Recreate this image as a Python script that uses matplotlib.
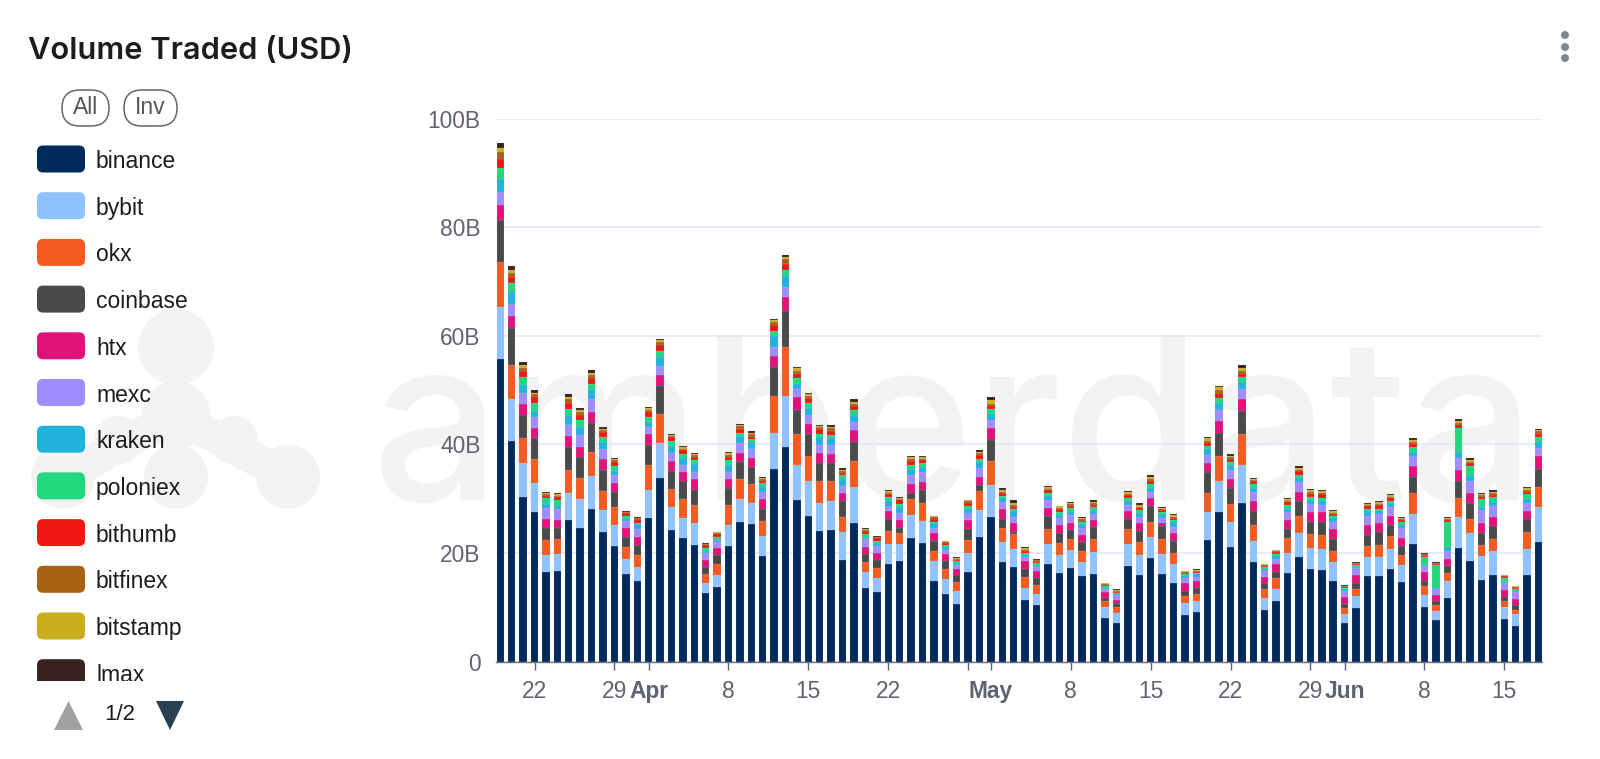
import numpy as np
import matplotlib
matplotlib.use("Agg")
import matplotlib.pyplot as plt
from matplotlib.patches import Circle, FancyBboxPatch, Polygon, Rectangle

plt.rcParams["font.family"] = ["Liberation Sans", "DejaVu Sans"]

# values in billions of USD, one per day from Mar 19 to Jun 18
binance = [55.7, 40.7, 30.4, 27.6, 16.6, 16.7, 26.0, 24.6, 28.2, 23.8,
           21.3, 16.1, 14.8, 26.4, 33.9, 24.3, 22.7, 21.5, 12.6, 13.7,
           21.3, 25.7, 25.3, 19.4, 35.4, 39.5, 29.7, 26.8, 24.0, 24.3,
           18.8, 25.5, 13.6, 12.9, 17.9, 18.6, 22.8, 21.8, 14.9, 12.4,
           10.6, 16.5, 23.0, 26.7, 18.3, 17.4, 11.3, 10.4, 17.9, 16.3,
           17.3, 15.7, 16.2, 8.0, 7.2, 17.7, 15.9, 19.1, 16.2, 14.5,
           8.6, 9.1, 22.4, 27.6, 21.1, 29.3, 18.4, 9.5, 11.2, 16.4,
           19.2, 17.0, 16.8, 14.9, 7.2, 9.9, 15.7, 15.8, 17.0, 14.6,
           21.7, 10.1, 7.6, 11.8, 20.9, 18.5, 15.0, 15.9, 7.9, 6.6,
           16.0, 22.0]
bybit = [9.6, 7.6, 6.1, 5.3, 3.1, 3.2, 5.1, 5.4, 6.0, 4.05,
         3.8, 2.9, 2.7, 5.2, 6.3, 4.2, 3.8, 4.0, 1.85, 2.2,
         3.9, 4.2, 4.0, 3.8, 6.7, 9.4, 6.6, 6.4, 5.3, 5.2,
         5.0, 6.7, 2.9, 2.6, 3.7, 3.1, 4.2, 4.05, 3.55, 2.75,
         2.4, 3.6, 5.0, 5.8, 3.75, 3.4, 2.3, 2.15, 3.75, 3.4,
         3.2, 2.7, 4.0, 2.0, 1.8, 4.05, 3.75, 3.8, 3.6, 3.45,
         2.2, 2.15, 5.1, 5.65, 4.7, 6.9, 3.85, 2.15, 2.25, 3.7,
         4.5, 3.85, 3.9, 3.45, 1.5, 2.15, 3.55, 3.55, 3.75, 3.25,
         5.45, 2.2, 1.7, 3.05, 5.8, 5.15, 4.4, 4.5, 2.2, 2.15,
         4.8, 6.4]
okx = [8.3, 6.3, 4.7, 4.4, 2.8, 2.7, 4.2, 3.9, 4.5, 3.5,
       3.3, 2.1, 2.1, 4.7, 5.5, 3.3, 3.4, 3.3, 1.7, 2.1,
       3.6, 3.7, 3.4, 2.7, 6.9, 9.1, 5.6, 4.7, 4.0, 3.7,
       2.9, 4.7, 1.85, 1.8, 2.4, 2.0, 2.9, 3.3, 1.85, 1.9,
       1.6, 2.4, 3.4, 4.5, 2.65, 2.65, 2.0, 1.6, 2.75, 2.15,
       2.1, 2.0, 2.45, 1.1, 1.0, 2.6, 2.35, 2.75, 2.75, 2.15,
       1.3, 1.3, 3.6, 4.65, 3.25, 5.7, 2.9, 1.8, 2.0, 2.6,
       3.15, 2.6, 2.6, 2.1, 1.1, 1.3, 2.0, 2.1, 2.4, 1.8,
       3.9, 1.55, 1.1, 1.4, 3.35, 2.7, 2.0, 2.2, 1.1, 0.85,
       3.0, 3.7]
coinbase = [7.7, 6.9, 4.2, 3.9, 2.1, 2.0, 4.2, 3.7, 5.2, 3.9,
            2.8, 1.85, 1.9, 3.6, 5.0, 3.3, 3.4, 2.9, 1.2, 1.6,
            3.1, 3.1, 3.1, 2.3, 5.2, 6.6, 4.5, 4.1, 3.3, 3.4,
            2.8, 3.6, 1.5, 1.35, 2.2, 1.0, 1.2, 2.4, 1.85, 1.4,
            1.3, 2.0, 1.05, 3.9, 1.65, 0.5, 1.4, 1.2, 2.45, 1.9,
            1.65, 1.65, 2.15, 0.6, 0.6, 1.9, 2.1, 3.05, 2.4, 2.1,
            1.0, 1.05, 3.9, 4.25, 2.95, 4.3, 2.55, 1.0, 1.15, 1.7,
            2.65, 2.25, 2.4, 2.2, 0.8, 1.05, 2.15, 2.5, 2.1, 1.65,
            3.05, 1.1, 0.7, 1.35, 3.2, 2.95, 2.25, 2.4, 0.7, 0.8,
            2.4, 3.3]
htx = [2.8, 2.2, 2.1, 1.9, 1.65, 1.5, 2.0, 2.0, 2.1, 2.0,
       1.7, 1.6, 1.5, 2.0, 2.15, 1.8, 1.7, 1.85, 1.35, 1.4,
       1.65, 1.8, 1.65, 1.7, 2.0, 2.6, 2.4, 1.85, 1.8, 1.65,
       1.6, 2.15, 1.3, 1.35, 1.5, 1.35, 1.55, 1.6, 1.5, 1.4,
       1.2, 1.65, 1.65, 2.1, 1.8, 1.6, 1.5, 1.3, 1.45, 1.35,
       1.35, 1.2, 1.35, 1.1, 0.85, 1.45, 1.45, 1.4, 0.6, 1.45,
       1.35, 1.2, 1.6, 2.2, 1.65, 2.1, 1.9, 1.2, 1.3, 1.6,
       1.8, 1.85, 1.8, 1.7, 1.4, 1.6, 1.8, 1.65, 1.65, 1.55,
       1.85, 1.55, 1.1, 1.3, 2.0, 1.8, 1.85, 1.7, 1.35, 1.2,
       1.6, 2.4]
mexc = [2.3, 2.2, 2.0, 1.9, 2.1, 2.0, 2.1, 2.2, 2.3, 1.85,
        1.5, 1.35, 1.5, 1.4, 1.65, 1.5, 1.3, 1.35, 1.4, 1.1,
        1.3, 1.7, 1.65, 1.35, 1.7, 1.85, 1.5, 1.6, 1.5, 1.6,
        1.3, 1.5, 1.4, 1.35, 0.85, 1.35, 1.65, 1.85, 1.05, 0.7,
        0.7, 1.2, 1.55, 1.5, 1.2, 1.1, 0.75, 0.75, 1.45, 1.4,
        1.4, 1.3, 1.05, 0.6, 0.75, 1.2, 1.15, 1.15, 0.9, 1.15,
        1.05, 0.85, 1.55, 1.95, 1.6, 1.85, 1.6, 1.1, 1.1, 1.5,
        1.7, 1.55, 1.4, 1.3, 1.05, 1.2, 1.6, 1.6, 1.65, 1.85,
        1.9, 1.05, 1.1, 1.55, 2.3, 2.25, 2.4, 1.95, 1.15, 1.15,
        1.4, 1.6]
kraken = [2.5, 2.1, 1.5, 1.2, 0.7, 0.6, 1.6, 1.35, 1.7, 1.35,
          0.8, 0.35, 0.85, 0.9, 1.6, 1.35, 1.2, 1.5, 0.25, 0.35,
          1.35, 1.3, 1.1, 0.85, 2.0, 2.0, 0.8, 1.35, 1.5, 1.35,
          1.2, 1.2, 0.25, 0.55, 1.05, 1.05, 1.2, 0.9, 0.8, 0.3,
          0.1, 0.75, 1.15, 1.2, 0.85, 1.1, 0.35, 0.25, 0.75, 0.55,
          0.5, 0.75, 0.6, 0.25, 0.25, 0.7, 0.7, 0.8, 0.75, 0.85,
          0.35, 0.55, 1.0, 1.4, 0.9, 1.4, 0.8, 0.4, 0.55, 0.7,
          0.75, 0.75, 0.7, 0.75, 0.3, 0.3, 0.9, 0.5, 0.4, 0.55,
          0.85, 0.2, 0.25, 0.7, 1.0, 0.85, 0.6, 0.8, 0.25, 0.25,
          0.8, 1.1]
poloniex = [2.0, 1.7, 1.35, 1.5, 1.0, 1.0, 1.35, 1.3, 1.15, 0.85,
            0.75, 0.6, 0.25, 0.8, 1.1, 0.85, 0.75, 0.8, 0.6, 0.6,
            0.85, 0.6, 0.8, 0.75, 1.0, 1.05, 1.2, 0.85, 0.6, 0.6,
            0.7, 1.05, 0.75, 0.3, 0.7, 0.5, 0.7, 0.6, 0.3, 0.6,
            0.6, 0.5, 0.6, 0.8, 0.3, 0.3, 0.4, 0.5, 0.55, 0.6,
            0.85, 0.35, 0.6, 0.3, 0.25, 0.6, 0.45, 0.7, 0.45, 0.45,
            0.3, 0.2, 0.6, 0.85, 0.7, 0.85, 0.7, 0.3, 0.35, 0.6,
            0.6, 0.55, 0.6, 0.45, 0.25, 0.25, 0.35, 0.5, 0.6, 0.45,
            0.75, 1.6, 4.3, 4.65, 4.55, 1.85, 1.5, 0.85, 0.85, 0.35,
            0.8, 0.9]
bithumb = [1.7, 1.2, 1.1, 1.0, 0.55, 0.6, 1.0, 1.0, 1.05, 1.05,
           0.9, 0.5, 0.55, 1.05, 1.2, 0.75, 0.75, 0.5, 0.55, 0.5,
           0.6, 0.75, 0.45, 0.5, 1.05, 1.2, 0.7, 0.9, 0.8, 0.6,
           0.5, 0.7, 0.55, 0.5, 0.55, 0.75, 0.7, 0.6, 0.55, 0.45,
           0.3, 0.6, 0.6, 0.6, 0.5, 0.5, 0.45, 0.2, 0.5, 0.45,
           0.3, 0.3, 0.5, 0.2, 0.2, 0.45, 0.4, 0.55, 0.25, 0.3,
           0.2, 0.2, 0.5, 0.7, 0.45, 0.6, 0.55, 0.2, 0.3, 0.6,
           0.7, 0.55, 0.6, 0.35, 0.2, 0.25, 0.55, 0.6, 0.55, 0.3,
           0.7, 0.2, 0.2, 0.25, 0.55, 0.5, 0.35, 0.45, 0.2, 0.25,
           0.5, 0.6]
bitfinex = [1.2, 0.7, 0.7, 0.5, 0.25, 0.25, 0.8, 0.5, 0.5, 0.3,
            0.3, 0.2, 0.25, 0.3, 0.45, 0.25, 0.25, 0.3, 0.1, 0.2,
            0.4, 0.55, 0.4, 0.3, 0.55, 0.8, 0.55, 0.4, 0.4, 0.55,
            0.3, 0.35, 0.2, 0.2, 0.3, 0.25, 0.4, 0.3, 0.25, 0.2,
            0.1, 0.3, 0.4, 0.4, 0.3, 0.3, 0.2, 0.3, 0.3, 0.25,
            0.3, 0.4, 0.3, 0.2, 0.2, 0.3, 0.3, 0.3, 0.25, 0.3,
            0.2, 0.15, 0.35, 0.75, 0.35, 0.55, 0.25, 0.2, 0.2, 0.25,
            0.3, 0.3, 0.3, 0.25, 0.1, 0.1, 0.25, 0.3, 0.25, 0.25,
            0.35, 0.25, 0.1, 0.2, 0.35, 0.3, 0.3, 0.25, 0.1, 0.15,
            0.3, 0.4]
bitstamp = [0.8, 0.55, 0.4, 0.3, 0.2, 0.25, 0.3, 0.35, 0.5, 0.25,
            0.2, 0.1, 0.1, 0.3, 0.4, 0.2, 0.25, 0.3, 0.1, 0.1,
            0.35, 0.25, 0.3, 0.25, 0.35, 0.5, 0.5, 0.35, 0.25, 0.35,
            0.25, 0.4, 0.2, 0.1, 0.2, 0.2, 0.3, 0.2, 0.2, 0.1,
            0.2, 0.2, 0.3, 0.6, 0.4, 0.4, 0.3, 0.1, 0.35, 0.25,
            0.25, 0.2, 0.25, 0.1, 0.1, 0.3, 0.3, 0.35, 0.2, 0.25,
            0.1, 0.15, 0.5, 0.55, 0.3, 0.5, 0.2, 0.1, 0.1, 0.3,
            0.3, 0.3, 0.25, 0.25, 0.1, 0.1, 0.25, 0.3, 0.3, 0.25,
            0.35, 0.1, 0.1, 0.2, 0.3, 0.3, 0.3, 0.3, 0.1, 0.1,
            0.3, 0.3]
lmax = [0.9, 0.75, 0.6, 0.45, 0.2, 0.2, 0.6, 0.4, 0.5, 0.3,
        0.2, 0.15, 0.1, 0.2, 0.2, 0.2, 0.25, 0.2, 0.1, 0.1,
        0.3, 0.2, 0.25, 0.1, 0.3, 0.2, 0.15, 0.1, 0.1, 0.35,
        0.35, 0.45, 0.1, 0.1, 0.25, 0.2, 0.2, 0.2, 0.1, 0.1,
        0.1, 0.1, 0.25, 0.6, 0.3, 0.45, 0.2, 0.1, 0.2, 0.15,
        0.25, 0.1, 0.35, 0.1, 0.1, 0.2, 0.3, 0.35, 0.1, 0.2,
        0.1, 0.1, 0.35, 0.3, 0.35, 0.5, 0.2, 0.1, 0.1, 0.2,
        0.3, 0.2, 0.2, 0.2, 0.1, 0.1, 0.2, 0.25, 0.2, 0.2,
        0.35, 0.05, 0.1, 0.2, 0.3, 0.35, 0.2, 0.25, 0.1, 0.1,
        0.2, 0.2]

exchanges = ["binance", "bybit", "okx", "coinbase", "htx", "mexc",
             "kraken", "poloniex", "bithumb", "bitfinex", "bitstamp", "lmax"]
series = [binance, bybit, okx, coinbase, htx, mexc,
          kraken, poloniex, bithumb, bitfinex, bitstamp, lmax]
colors = ["#012a5c", "#8fc3ff", "#f45b1e", "#4a4a4a", "#e0137a", "#a08cff",
          "#22b3dc", "#22d87c", "#ee1a12", "#a86212", "#cbae20", "#3d2020"]

# the tick for Apr 29 has no label, May takes its place
x_ticks = [3, 10, 13, 20, 27, 34, 41, 43, 50, 57, 64, 71, 74, 81, 88]
x_labels = ["22", "29", "Apr", "8", "15", "22", "", "May",
            "8", "15", "22", "29", "Jun", "8", "15"]
y_ticks = [0, 20, 40, 60, 80, 100]
y_labels = ["0", "20B", "40B", "60B", "80B", "100B"]

W, H = 1600, 759
fig = plt.figure(figsize=(W / 100, H / 100), dpi=100, facecolor="white")

# pixel coordinate layers: watermark behind the chart, legend and title on top
bg = fig.add_axes([0, 0, 1, 1], zorder=0)
bg.set_xlim(0, W)
bg.set_ylim(H, 0)
bg.axis("off")

ui = fig.add_axes([0, 0, 1, 1], zorder=2)
ui.set_xlim(0, W)
ui.set_ylim(H, 0)
ui.axis("off")

ax = fig.add_axes([496 / W, 1 - 661.7 / H, (1542 - 496) / W, (661.7 - 118.6) / H], zorder=1)
ax.patch.set_alpha(0)

# watermark
wm = "#f3f3f3"
for cx, cy, r in [(176, 347, 38), (176, 415, 34), (176, 477, 32), (63, 477, 32),
                  (288, 477, 32), (118, 440, 24), (234, 440, 24)]:
    bg.add_patch(Circle((cx, cy), r, color=wm, lw=0))
bg.plot([63, 176, 288], [477, 415, 477], color=wm, lw=24, solid_capstyle="round", zorder=1)
bg.text(372, 500, "amberdata", fontsize=163, color=wm, family="Inter", weight="medium",
        ha="left", va="baseline")

# stacked bars
days = np.arange(len(binance))
bottom = np.zeros(len(days))
for name, vals, col in zip(exchanges, series, colors):
    ax.bar(days, vals, bottom=bottom, width=0.65, color=col, label=name, zorder=3,
           edgecolor=(0.78, 0.8, 0.92, 0.4), linewidth=0.25)
    bottom = bottom + np.array(vals)

ax.set_xlim(-0.377, 91.3)
ax.set_ylim(0, 100)
ax.set_yticks(y_ticks)
ax.set_yticklabels(y_labels)
ax.set_xticks(x_ticks)
ax.set_xticklabels(x_labels)
ax.grid(axis="y", color="#e2e5f3", linewidth=1.1, zorder=0)
ax.set_axisbelow(True)
for side in ["top", "right", "left"]:
    ax.spines[side].set_visible(False)
ax.spines["bottom"].set_color("#6b7080")
ax.spines["bottom"].set_linewidth(1.0)
ax.spines["bottom"].set_zorder(4)
ax.tick_params(axis="y", length=0, labelsize=16.4, labelcolor="#5e6272", pad=11)
ax.tick_params(axis="x", length=6, width=1, color="#5e6272", labelsize=16.4,
               labelcolor="#5e6272", pad=7)
for lab in ax.get_xticklabels():
    if lab.get_text() in ["Apr", "May", "Jun"]:
        lab.set_fontweight("bold")

# title and menu dots
ui.text(28, 51, "Volume Traded (USD)", fontsize=22.2, weight="semibold", family="Inter",
        color="#1c1c1c", ha="left", va="center")
for cy in [35, 47, 58]:
    ui.add_patch(Circle((1565, cy), 4, color="#7a8a94", lw=0))

# All / Inv buttons
for x0, x1, txt in [(62, 109, "All"), (124, 177, "Inv")]:
    ui.add_patch(FancyBboxPatch((x0 + 18, 90 + 18), x1 - x0 - 36, 0,
                                boxstyle="round,pad=18,rounding_size=18", fc="none",
                                ec="#666666", lw=1.1, mutation_aspect=1))
    ui.text((x0 + x1) / 2, 108, txt, fontsize=16.5, color="#555555", ha="center", va="center")

# legend, page 1; the last row is cut by the scroll area
legend_clip = Rectangle((0, 130), 400, 551, transform=ui.transData, fc="none", ec="none")
ui.add_patch(legend_clip)
for k, (name, col) in enumerate(zip(exchanges, colors)):
    cy = 159 + 46.7 * k
    sw = FancyBboxPatch((41, cy - 9.5), 40, 19, boxstyle="round,pad=4,rounding_size=6",
                        fc=col, ec="none", mutation_aspect=1)
    ui.add_patch(sw)
    sw.set_clip_path(legend_clip)
    t = ui.text(96, cy, name, fontsize=16.5, color="#1c1c1c", ha="left", va="center_baseline",
                clip_on=True)
    t.set_clip_path(legend_clip)

# pager
ui.add_patch(Polygon([(54, 730), (83, 730), (68.5, 701)], color="#a0a0a0", lw=0))
ui.text(120, 715, "1/2", fontsize=16, color="#1c1c1c", ha="center", va="center")
ui.add_patch(Polygon([(156, 701), (184, 701), (170, 730)], color="#2a3f4f", lw=0))

fig.savefig("out.png", dpi=100)
